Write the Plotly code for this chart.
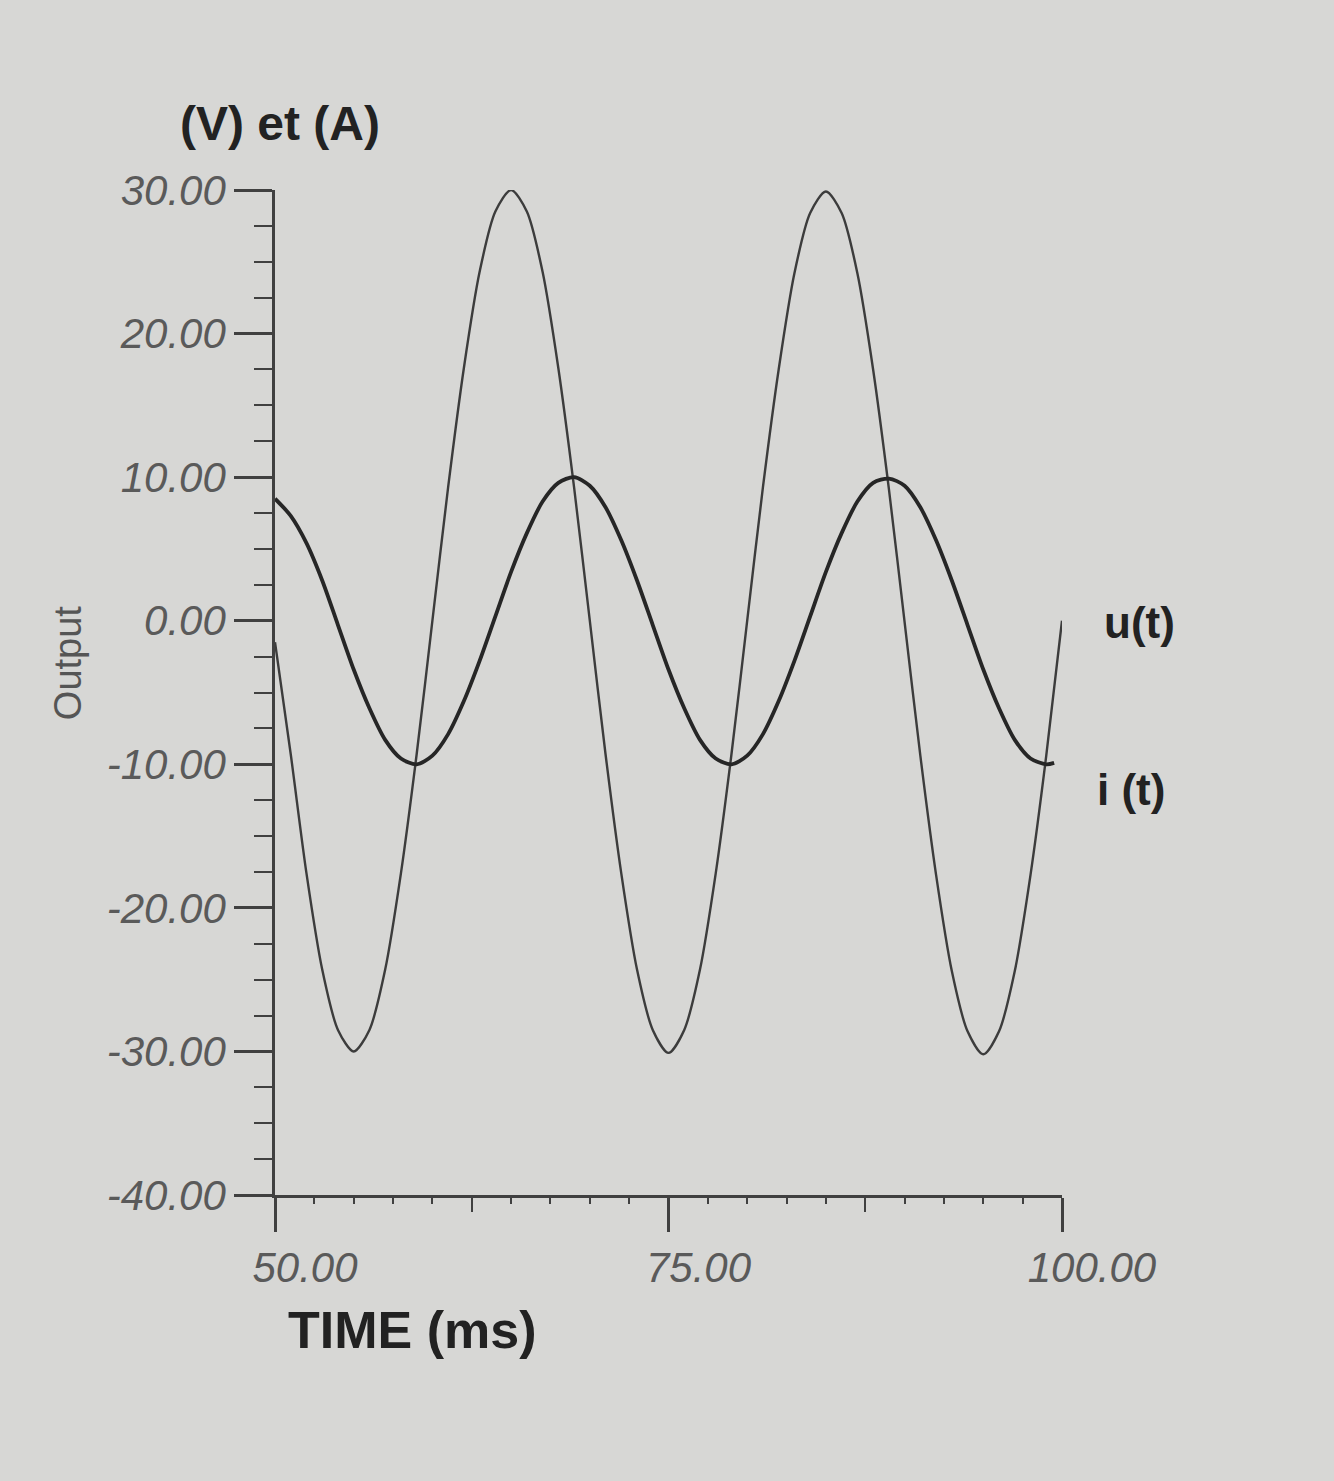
import plotly.graph_objects as go

# ---- data ----
time_u = [50, 51, 52, 53, 54, 55, 56, 57, 58, 59,
          60, 61, 62, 63, 64, 65, 66, 67, 68, 69,
          70, 71, 72, 73, 74, 75, 76, 77, 78, 79,
          80, 81, 82, 83, 84, 85, 86, 87, 88, 89,
          90, 91, 92, 93, 94, 95, 96, 97, 98, 99, 100]
u_values = [-1.5, -9.3, -17.6, -24.3, -28.5, -30.0, -28.5, -24.3, -17.6, -9.3,
            0.0, 9.3, 17.6, 24.3, 28.5, 30.0, 28.5, 24.3, 17.6, 9.3,
            0.0, -9.3, -17.6, -24.3, -28.5, -30.1, -28.5, -24.3, -17.6, -9.3,
            0.0, 9.3, 17.5, 24.2, 28.4, 29.9, 28.4, 24.2, 17.5, 9.2,
            -0.1, -9.4, -17.7, -24.4, -28.6, -30.2, -28.6, -24.4, -17.7, -9.4, 0.0]

time_i = [50, 51, 52, 53, 54, 55, 56, 57, 58, 59,
          60, 61, 62, 63, 64, 65, 66, 67, 68, 69,
          70, 71, 72, 73, 74, 75, 76, 77, 78, 79,
          80, 81, 82, 83, 84, 85, 86, 87, 88, 89,
          90, 91, 92, 93, 94, 95, 96, 97, 98, 99, 99.5]
i_values = [8.5, 7.3, 5.4, 2.8, -0.3, -3.4, -6.1, -8.3, -9.6, -10.0,
            -9.4, -7.9, -5.6, -2.8, 0.3, 3.4, 6.1, 8.3, 9.6, 10.0,
            9.4, 7.9, 5.6, 2.8, -0.3, -3.4, -6.1, -8.3, -9.6, -10.0,
            -9.4, -7.9, -5.6, -2.8, 0.3, 3.4, 6.1, 8.3, 9.6, 9.9,
            9.4, 7.9, 5.6, 2.8, -0.3, -3.4, -6.1, -8.3, -9.6, -10.0, -9.9]

x_tick_vals = [50, 75, 100]
x_tick_labels = ["50.00", "75.00", "100.00"]
x_mid_ticks = [62.5, 87.5]
y_tick_vals = [-40, -30, -20, -10, 0, 10, 20, 30]
y_tick_labels = ["-40.00", "-30.00", "-20.00", "-10.00", "0.00", "10.00", "20.00", "30.00"]

BG = "#d7d7d5"
AX = "#404040"
LBL = "#5a5a5a"
FONT = "Liberation Sans, Arial, sans-serif"

fig = go.Figure()
fig.add_trace(go.Scatter(x=time_u, y=u_values, mode="lines", name="u(t)",
                         line=dict(color="#3c3c3c", width=2.4, shape="spline", smoothing=0.8),
                         showlegend=False, hoverinfo="skip"))
fig.add_trace(go.Scatter(x=time_i, y=i_values, mode="lines", name="i(t)",
                         line=dict(color="#262626", width=3.8, shape="spline", smoothing=0.8),
                         showlegend=False, hoverinfo="skip"))
# helper (empty) trace for the secondary tick axis
fig.add_trace(go.Scatter(x=[50, 100], y=[None, None], xaxis="x2", mode="lines",
                         showlegend=False, hoverinfo="skip"))

fig.update_layout(
    width=1334, height=1481,
    margin=dict(l=275, r=272, t=190, b=286),
    paper_bgcolor=BG, plot_bgcolor=BG,
    font=dict(family=FONT),
    xaxis=dict(range=[50, 100], tickmode="array", tickvals=x_tick_vals, ticktext=x_tick_labels,
               ticks="outside", ticklen=34, tickwidth=2.5, tickcolor=AX,
               showline=True, linecolor=AX, linewidth=2.5, showgrid=False, zeroline=False,
               tickfont=dict(size=42, color=LBL, style="italic", family=FONT),
               ticklabelshift=30,
               minor=dict(tick0=50, dtick=2.5, ticks="outside", ticklen=6, tickwidth=2, tickcolor=AX, showgrid=False)),
    xaxis2=dict(range=[50, 100], overlaying="x", anchor="y", side="bottom",
                tickmode="array", tickvals=x_mid_ticks, ticks="outside", ticklen=16, tickwidth=2,
                tickcolor=AX, showticklabels=False, showline=False, showgrid=False, zeroline=False),
    yaxis=dict(range=[-40, 30], tickmode="array", tickvals=y_tick_vals, ticktext=y_tick_labels,
               ticks="outside", ticklen=38, tickwidth=2.5, tickcolor=AX,
               showline=True, linecolor=AX, linewidth=2.5, showgrid=False, zeroline=False,
               tickfont=dict(size=42, color=LBL, style="italic", family=FONT),
               minor=dict(tick0=-40, dtick=2.5, ticks="outside", ticklen=18, tickwidth=2, tickcolor=AX, showgrid=False)),
    annotations=[
        dict(text="(V) et (A)", xref="paper", yref="paper", x=0.006, y=1.066,
             xanchor="center", yanchor="middle", showarrow=False,
             font=dict(size=48, color="#222222", weight="bold", family=FONT)),
        dict(text="TIME (ms)", xref="paper", yref="paper", x=0.174, y=-0.134,
             xanchor="center", yanchor="middle", showarrow=False,
             font=dict(size=52, color="#222222", weight="bold", family=FONT)),
        dict(text="Output", xref="paper", yref="paper", x=-0.262, y=0.53,
             xanchor="center", yanchor="middle", showarrow=False, textangle=-90,
             font=dict(size=38, color="#555555", family=FONT)),
        dict(text="u(t)", xref="paper", yref="paper", x=1.099, y=0.570,
             xanchor="center", yanchor="middle", showarrow=False,
             font=dict(size=44, color="#222222", weight="bold", family=FONT)),
        dict(text="i (t)", xref="paper", yref="paper", x=1.088, y=0.403,
             xanchor="center", yanchor="middle", showarrow=False,
             font=dict(size=44, color="#222222", weight="bold", family=FONT)),
    ],
)

fig.write_html("out.html", config={"displayModeBar": False},
               post_script="document.body.style.margin='0';")
